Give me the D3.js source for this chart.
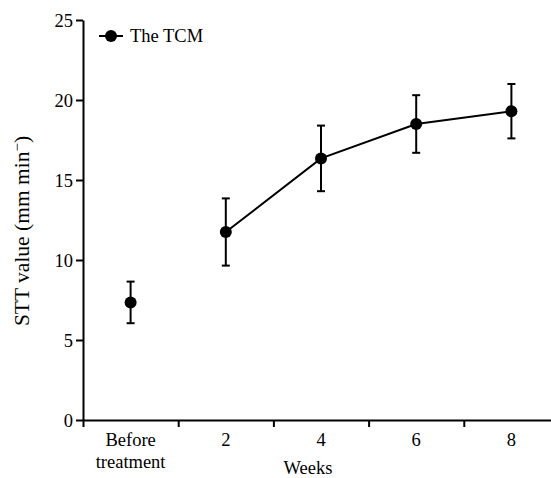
<!DOCTYPE html>
<html>
<head>
<meta charset="utf-8">
<style>
  body { margin: 0; background: #fff; }
  .axis path, .axis line { stroke: #000; stroke-width: 2px; }
</style>
</head>
<body>
<svg width="551" height="478"></svg>
<script src="https://cdn.jsdelivr.net/npm/d3@7"></script>
<script>
var categories = ['Before treatment', '2', '4', '6', '8'];
var means = [7.35, 11.75, 16.35, 18.5, 19.3];
var errs = [1.3, 2.1, 2.05, 1.8, 1.7];
var yTicks = [0, 5, 10, 15, 20, 25];
var seriesName = 'The TCM';

var svg = d3.select('svg');
var serif = 'Liberation Serif';
var plotLeft = 83, plotRight = 559, plotTop = 20, plotBottom = 420;
var fs = 18.5;

var x = d3.scaleBand().domain(categories).range([plotLeft, plotRight]).padding(0);
var xEdge = d3.scaleLinear().domain([0, categories.length]).range([plotLeft, plotRight]);
var y = d3.scaleLinear().domain([0, 25]).range([plotBottom, plotTop]);

// y axis
var gy = svg.append('g')
    .attr('class', 'axis')
    .attr('transform', 'translate(' + plotLeft + ',0)')
    .call(d3.axisLeft(y).tickValues(yTicks).tickSize(7).tickPadding(3).tickSizeOuter(0));
gy.attr('font-family', serif).attr('font-size', fs);
gy.selectAll('text').attr('fill', '#000').attr('dy', '0.34em');

// x axis: ticks sit between the categories
svg.append('g')
    .attr('class', 'axis')
    .attr('transform', 'translate(0,' + plotBottom + ')')
    .call(d3.axisBottom(xEdge).tickValues(d3.range(0, categories.length)).tickFormat('').tickSize(7).tickSizeOuter(0));

// category labels
categories.forEach(function(c) {
    var parts = c.split(' ');
    var t = svg.append('text')
        .attr('x', x(c) + x.bandwidth() / 2)
        .attr('y', 446)
        .attr('text-anchor', 'middle')
        .attr('font-family', serif)
        .attr('font-size', fs);
    parts.forEach(function(p, i) {
        t.append('tspan').attr('x', x(c) + x.bandwidth() / 2).attr('dy', i === 0 ? 0 : 22).text(p);
    });
});

svg.append('text')
    .attr('x', 308)
    .attr('y', 474)
    .attr('text-anchor', 'middle')
    .attr('font-family', serif)
    .attr('font-size', fs)
    .text('Weeks');

var yl = svg.append('text')
    .attr('transform', 'translate(29,231) rotate(-90)')
    .attr('text-anchor', 'middle')
    .attr('font-family', serif)
    .attr('font-size', 21.5);
yl.append('tspan').text('STT value (mm min');
yl.append('tspan').attr('dy', '-0.5em').attr('font-size', 15).text('\u2212');
yl.append('tspan').attr('dy', '0.35em').text(')');

var cx = function(i) { return x(categories[i]) + x.bandwidth() / 2; };

// line (weeks only)
var line = d3.line().x(function(d) { return cx(d); }).y(function(d) { return y(means[d]); });
svg.append('path')
    .attr('d', line([1, 2, 3, 4]))
    .attr('fill', 'none')
    .attr('stroke', '#000')
    .attr('stroke-width', 2);

// error bars
var cap = 4;
means.forEach(function(m, i) {
    var g = svg.append('g').attr('stroke', '#000').attr('stroke-width', 2);
    g.append('line').attr('x1', cx(i)).attr('x2', cx(i)).attr('y1', y(m - errs[i])).attr('y2', y(m + errs[i]));
    g.append('line').attr('x1', cx(i) - cap).attr('x2', cx(i) + cap).attr('y1', y(m + errs[i])).attr('y2', y(m + errs[i]));
    g.append('line').attr('x1', cx(i) - cap).attr('x2', cx(i) + cap).attr('y1', y(m - errs[i])).attr('y2', y(m - errs[i]));
});

svg.append('g').selectAll('circle')
    .data(means)
    .enter()
    .append('circle')
    .attr('cx', function(d, i) { return cx(i); })
    .attr('cy', function(d) { return y(d); })
    .attr('r', 6)
    .attr('fill', '#000');

// legend
var lg = svg.append('g').attr('transform', 'translate(99,36)');
lg.append('line').attr('x1', 0).attr('x2', 24).attr('stroke', '#000').attr('stroke-width', 2);
lg.append('circle').attr('cx', 12).attr('r', 6).attr('fill', '#000');
lg.append('text').attr('x', 31).attr('y', 0).attr('dy', '0.34em')
    .attr('font-family', serif).attr('font-size', fs).text(seriesName);
</script>
</body>
</html>
